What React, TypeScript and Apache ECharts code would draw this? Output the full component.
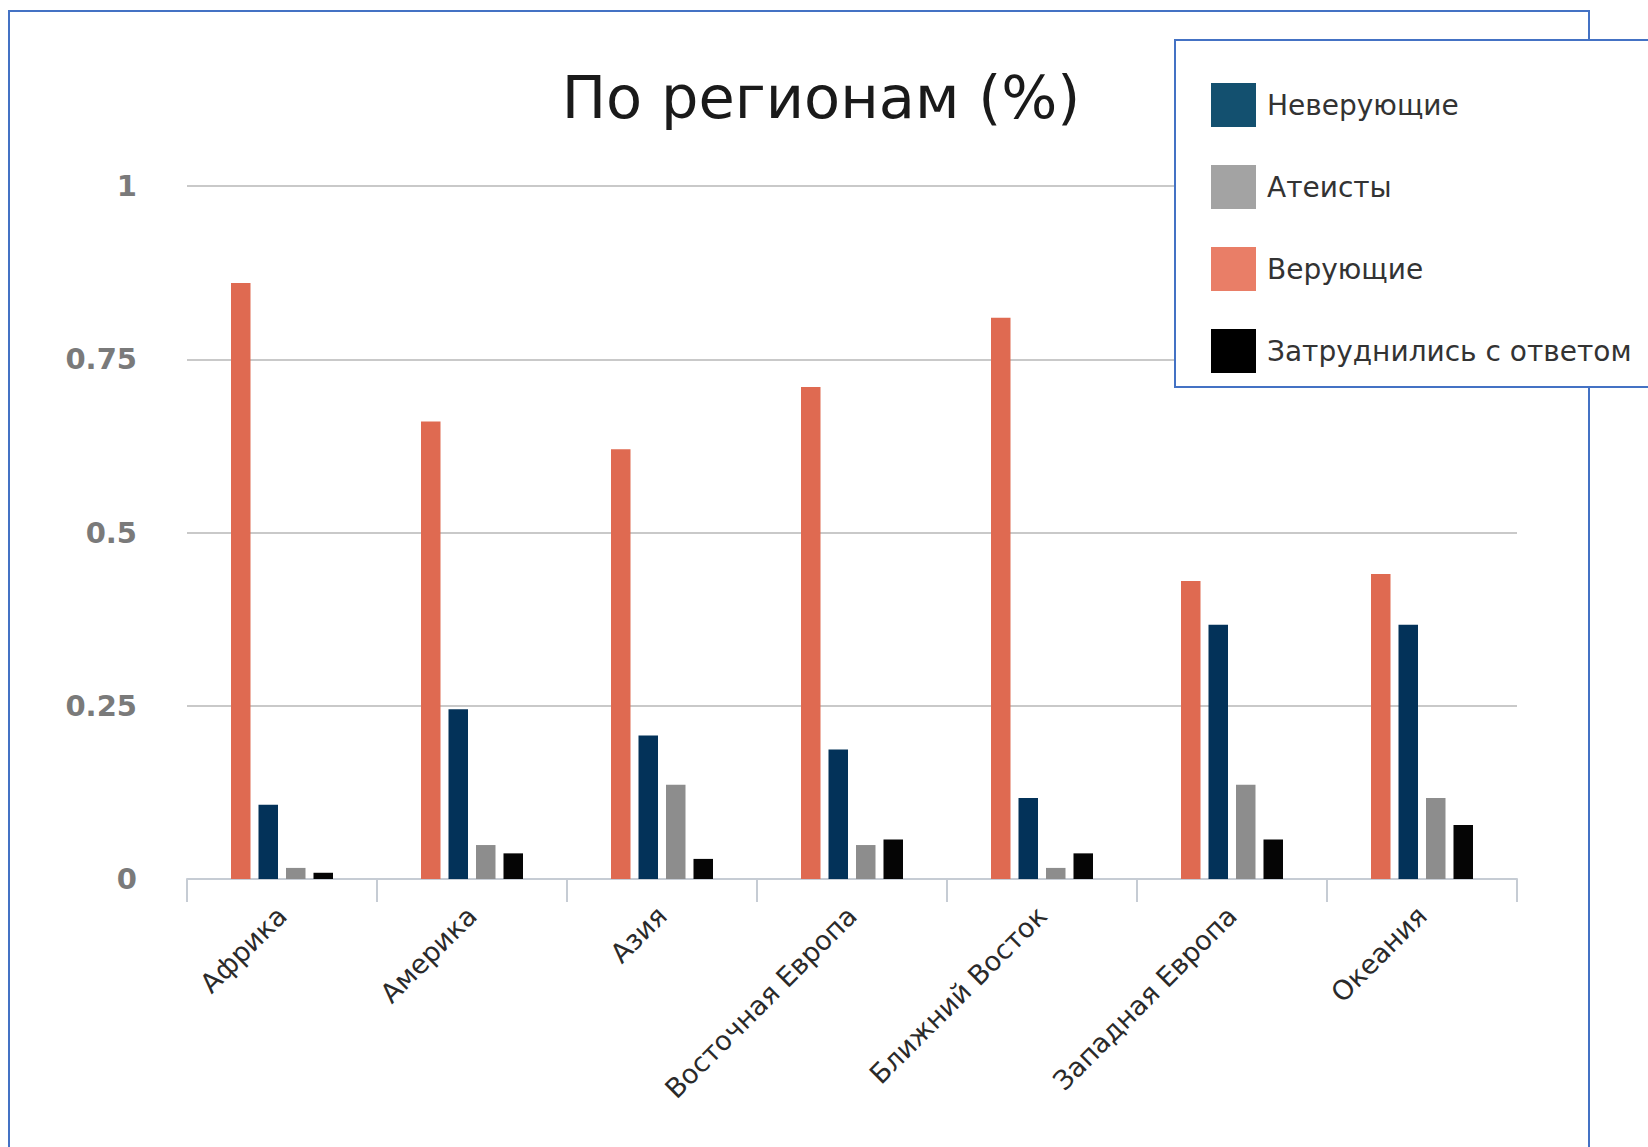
import React, { useEffect, useRef } from "react";
import * as echarts from "echarts";

const categories = [
  "Африка",
  "Америка",
  "Азия",
  "Восточная Европа",
  "Ближний Восток",
  "Западная Европа",
  "Океания",
];
const believers = [0.86, 0.66, 0.62, 0.71, 0.81, 0.43, 0.44];
const nonBelievers = [0.107, 0.245, 0.207, 0.187, 0.117, 0.367, 0.367];
const atheists = [0.016, 0.049, 0.136, 0.049, 0.016, 0.136, 0.117];
const undecided = [0.009, 0.037, 0.029, 0.057, 0.037, 0.057, 0.078];
const legendOrder = ["Неверующие", "Атеисты", "Верующие", "Затруднились с ответом"];
const titleText = "По регионам (%)";

const FONT = "DejaVu Sans";

export default function App() {
  const ref = useRef<HTMLDivElement>(null);
  useEffect(() => {
    if (!ref.current) return;
    const chart = echarts.init(ref.current, undefined, { renderer: "svg" });
    const barStyle = (name: string, data: number[], color: string) => ({
      name,
      type: "bar",
      data,
      barWidth: 19.5,
      barGap: "41%",
      itemStyle: { color },
    });
    chart.setOption({
      animation: false,
      backgroundColor: "#ffffff",
      graphic: [
        {
          type: "rect",
          z: 1,
          shape: { x: 9, y: 11, width: 1580, height: 1200 },
          style: { fill: "none", stroke: "#4472C4", lineWidth: 2 },
        },
        {
          type: "rect",
          z: 5,
          shape: { x: 1175, y: 40, width: 600, height: 347 },
          style: { fill: "#ffffff", stroke: "#4472C4", lineWidth: 2 },
        },
        {
          type: "text",
          z: 6,
          x: 821,
          y: 97,
          style: {
            text: titleText,
            fontFamily: FONT,
            fontSize: 59,
            fill: "#1a1a1a",
            textAlign: "center",
            textVerticalAlign: "middle",
          },
        },
      ],
      legend: {
        orient: "vertical",
        left: 1206,
        top: 78,
        z: 10,
        itemWidth: 45,
        itemHeight: 44,
        itemGap: 38,
        icon: "rect",
        textStyle: {
          fontFamily: FONT,
          fontSize: 28,
          color: "#333333",
          padding: [0, 0, 0, 6],
        },
        data: [
          { name: legendOrder[0], itemStyle: { color: "#13506f" } },
          { name: legendOrder[1], itemStyle: { color: "#a3a3a3" } },
          { name: legendOrder[2], itemStyle: { color: "#e97e67" } },
          { name: legendOrder[3], itemStyle: { color: "#000000" } },
        ],
      },
      grid: {
        left: 187,
        right: 131,
        top: 186,
        bottom: 268,
        outerBoundsMode: "none",
        containLabel: false,
      },
      xAxis: {
        type: "category",
        data: categories,
        axisLine: { show: true, lineStyle: { color: "#c6ccd4", width: 2 } },
        axisTick: { show: true, length: 23, lineStyle: { color: "#c6ccd4", width: 2 } },
        axisLabel: {
          interval: 0,
          rotate: 45,
          margin: 32,
          fontFamily: FONT,
          fontSize: 27,
          color: "#2a2a2a",
        },
      },
      yAxis: {
        type: "value",
        min: 0,
        max: 1,
        interval: 0.25,
        axisLine: { show: false },
        axisTick: { show: false },
        axisLabel: {
          margin: 50,
          fontFamily: FONT,
          fontSize: 29,
          fontWeight: "bold",
          color: "#7a7a7a",
        },
        splitLine: { lineStyle: { color: "#c9c9c9", width: 2 } },
      },
      series: [
        barStyle(legendOrder[2], believers, "#df6a51"),
        barStyle(legendOrder[0], nonBelievers, "#033259"),
        barStyle(legendOrder[1], atheists, "#8d8d8d"),
        barStyle(legendOrder[3], undecided, "#050505"),
      ],
    });
    return () => chart.dispose();
  }, []);
  return (
    <div
      ref={ref}
      style={{ position: "absolute", left: 0, top: 0, width: 1648, height: 1147 }}
    />
  );
}
